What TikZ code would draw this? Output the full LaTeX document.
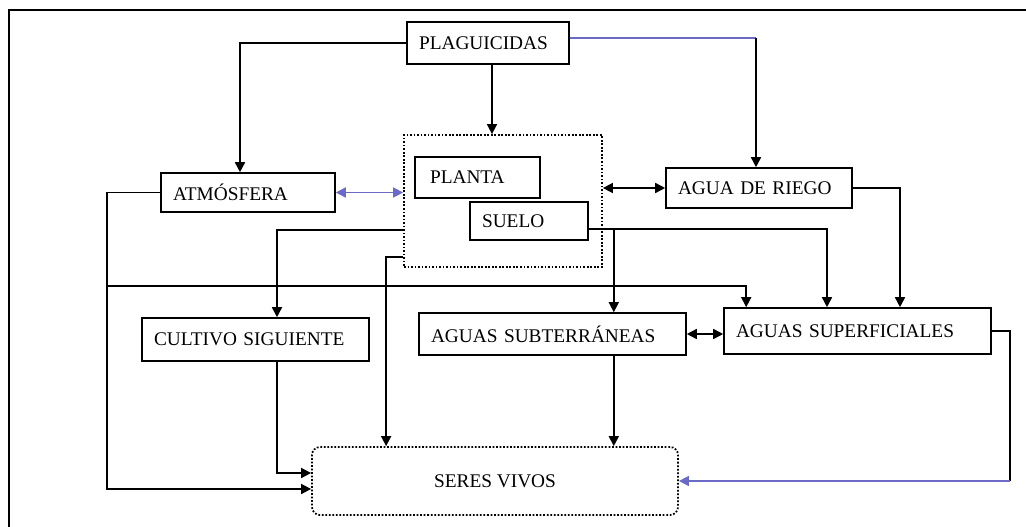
\documentclass[tikz,border=0pt]{standalone}
\usepackage{fontspec}
\setmainfont{Liberation Serif}
\usetikzlibrary{arrows.meta}

\begin{document}
\begin{tikzpicture}[x=0.2mm,y=-0.2mm,
  caja/.style={draw,line width=0.9pt,rectangle,inner xsep=2.4mm,inner ysep=0pt,
    align=left,font=\fontsize{11}{13}\selectfont},
  grupo/.style={draw,line width=1pt,densely dotted,rectangle},
  link/.style={line width=0.9pt},
  flecha/.style={link,-{Triangle[length=2mm,width=2mm]}},
  doble/.style={link,{Triangle[length=2mm,width=2mm]}-{Triangle[length=2mm,width=2mm]}},
  azul/.style={draw=blue!45!gray!80}]
  \useasboundingbox (0,0) rectangle (1026,526);
  %\draw[help lines] (0,0) grid[step=50] (1026,526);
  \draw[line width=0.9pt] (9,540) -- (9,10) -- (1040,10);

  % cajas
  \node[caja,text width=2.76cm,minimum height=0.84cm] (plag) at (488,43) {PLAGUICIDAS};
  \node[caja,text width=3.0cm,minimum height=0.78cm] (atm) at (248,192.5) {ATMÓSFERA};
  \node[grupo,minimum width=3.96cm,minimum height=2.64cm] (grp) at (503,201) {};
  \node[caja,text width=1.9cm,minimum height=0.82cm,inner xsep=3mm] (planta) at (477.5,177.5) {PLANTA};
  \node[caja,text width=1.88cm,minimum height=0.76cm] (suelo) at (529,221) {SUELO};
  \node[caja,text width=3.24cm,minimum height=0.8cm] (riego) at (759,188) {AGUA DE RIEGO};
  \node[caja,text width=4.06cm,minimum height=0.86cm] (cult) at (255.5,339.5) {CULTIVO SIGUIENTE};
  \node[caja,text width=4.86cm,minimum height=0.84cm] (subt) at (552.5,334) {AGUAS SUBTERRÁNEAS};
  \node[caja,text width=4.86cm,minimum height=0.92cm] (sup) at (857.5,331) {AGUAS SUPERFICIALES};
  \node[grupo,rounded corners=1.6mm,minimum width=7.32cm,minimum height=1.36cm,
    font=\fontsize{11}{13}\selectfont] (seres) at (495,481) {SERES VIVOS};

  % puntos auxiliares
  \coordinate (izq) at (107,286);
  \coordinate (c1) at (756,38);
  \coordinate (s1) at ([yshift=-1.6mm]suelo.east);
  \coordinate (s2) at ([xshift=-14.6mm]subt.north east);
  \coordinate (d1) at ([xshift=3.6mm]sup.east);

  % conexiones
  \draw[flecha] (plag.west) -| ([xshift=-1.6mm]atm.north);
  \draw[flecha] ([xshift=0.8mm]plag.south) -- ([xshift=0.8mm]plag.south |- grp.north);
  \draw[link,azul] ([yshift=1mm]plag.east) -- (c1);
  \draw[flecha] (c1) -- (c1 |- riego.north);
  \draw[doble,azul] (atm.east) -- (atm.east -| grp.west);
  \draw[doble] (grp.east |- riego.west) -- (riego.west);
  \draw[flecha] (atm.west) -| (izq) |- ([yshift=-1.6mm]seres.west);
  \draw[flecha] (izq) -| ([xshift=4.6mm]sup.north west);
  \draw[flecha] ([yshift=-5.8mm]grp.west) -| ([xshift=4.3mm]cult.north);
  \draw[flecha] ([yshift=2.2mm]grp.south west) -| ([xshift=15mm]seres.north west);
  \draw[flecha] (s1) -| ([xshift=-6.1mm]sup.north);
  \draw[flecha] (s1 -| s2) -- (s2);
  \draw[flecha] ([yshift=0mm]riego.east) -| ([xshift=8.5mm]sup.north);
  \draw[flecha] ([xshift=4.3mm]cult.south) |- ([yshift=1.6mm]seres.west);
  \draw[doble] (subt.east) -- (subt.east -| sup.west);
  \draw[flecha] ([xshift=-14.6mm]subt.south east) -- ([xshift=-14.6mm]subt.south east |- seres.north);
  \draw[link] (sup.east) -- (d1) -- (d1 |- seres.east);
  \draw[flecha,azul] (d1 |- seres.east) -- (seres.east);
\end{tikzpicture}
\end{document}
